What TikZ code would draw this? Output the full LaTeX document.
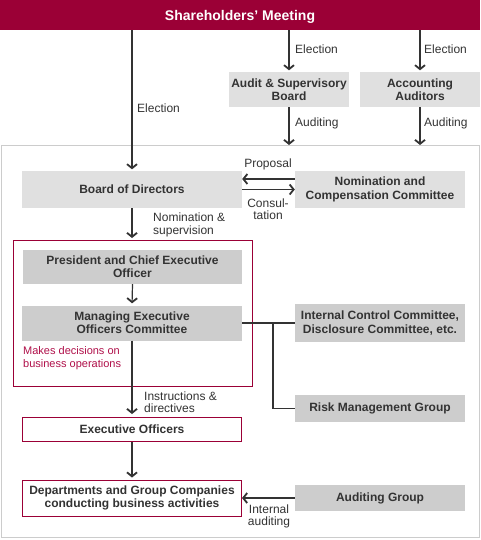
\documentclass[tikz,border=0pt]{standalone}
\usepackage{fontspec}
\setmainfont{Liberation Sans}
\usetikzlibrary{arrows.meta}
\definecolor{wine}{HTML}{9B0036}
\definecolor{winetext}{HTML}{B0104A}
\definecolor{lightbox}{HTML}{E0E0E0}
\definecolor{darkbox}{HTML}{CDCDCD}
\definecolor{ink}{HTML}{333333}
\definecolor{frame}{HTML}{CCCCCC}
\tikzset{
  every node/.style={inner sep=0pt, text=ink},
  boxtext/.style={font=\fontsize{12}{13.3}\selectfont\bfseries, align=center},
  lbox/.style={boxtext, fill=lightbox},
  dbox/.style={boxtext, fill=darkbox},
  rbox/.style={boxtext, fill=white, draw=wine, line width=1pt},
  lbl/.style={font=\fontsize{12}{12.5}\selectfont, text=ink},
  conn/.style={draw=ink, line width=1.2pt},
  arr/.style={conn, -{Straight Barb[length=4pt,width=10pt,line width=1.8pt]}},
}
\begin{document}
\begin{tikzpicture}[x=1pt,y=-1pt]
\useasboundingbox (0,0) rectangle (480,540);
% outer frame
\node[draw=frame, line width=1pt, fill=white, minimum width=478pt, minimum height=392pt] (outer) at (240,341.5) {};
% red group frame
\node[draw=wine, line width=1pt, minimum width=239pt, minimum height=146pt] (grp) at (132.5,313) {};
% banner
\node[fill=wine, minimum width=480pt, minimum height=30pt] (sh) at (240,15) {};
\node[text=white, font=\fontsize{14}{16}\selectfont\bfseries] (sht) at (240,16.5) {Shareholders’ Meeting};
% boxes
\node[lbox, minimum width=120pt, minimum height=35pt] (asb) at (289,89.5) {Audit \& Supervisory\\Board};
\node[lbox, minimum width=120pt, minimum height=35pt] (acc) at (420,89.5) {Accounting\\Auditors};
\node[lbox, minimum width=220pt, minimum height=37pt] (bod) at (132,189.5) {Board of Directors};
\node[lbox, minimum width=170pt, minimum height=37pt] (ncc) at (380,189.5) {Nomination and\\Compensation Committee};
\node[dbox, minimum width=219pt, minimum height=34pt] (pres) at (132.5,267) {President and Chief Executive\\Officer};
\node[dbox, minimum width=220pt, minimum height=35pt] (meoc) at (132,323) {Managing Executive\\Officers Committee};
\node[dbox, minimum width=170pt, minimum height=38pt] (icc) at (380,323) {Internal Control Committee,\\Disclosure Committee, etc.};
\node[dbox, minimum width=170pt, minimum height=27pt] (risk) at (380,408.5) {Risk Management Group};
\node[rbox, minimum width=219pt, minimum height=24pt] (exo) at (132,429.5) {Executive Officers};
\node[rbox, minimum width=219pt, minimum height=36pt] (dept) at (132,498) {Departments and Group Companies\\conducting business activities};
\node[dbox, minimum width=170pt, minimum height=26pt] (ag) at (380,498) {Auditing Group};
% connectors
\draw[arr, shorten >=1.5pt] (bod.north |- sh.south) -- (bod.north);
\draw[arr, shorten >=1.5pt] (asb.north |- sh.south) -- (asb.north);
\draw[arr, shorten >=1.5pt] (acc.north |- sh.south) -- (acc.north);
\draw[arr] (asb.south) -- (asb.south |- outer.north);
\draw[arr] (acc.south) -- (acc.south |- outer.north);
\draw[arr] ([yshift=10.5pt]ncc.west) -- ([yshift=10.5pt]bod.east);
\draw[arr] (bod.east) -- (ncc.west);
\draw[arr, shorten >=1.5pt] (bod.south) -- (bod.south |- grp.north);
\draw[arr, shorten >=2pt] (pres.south) -- (meoc.north);
\draw[arr, shorten >=3pt] (meoc.south) -- (exo.north);
\draw[arr, shorten >=2pt] (exo.south) -- (dept.north);
\draw[conn] (meoc.east) -- (icc.west);
\coordinate (br) at (273,323);
\draw[conn] (br) |- (risk.west);
\draw[arr] (ag.west) -- (dept.east);
% labels
\node[lbl, anchor=west] (l1) at (137,108) {Election};
\node[lbl, anchor=west] (l2) at (295,49) {Election};
\node[lbl, anchor=west] (l3) at (424,49) {Election};
\node[lbl, anchor=west] (l4) at (295,123) {Auditing};
\node[lbl, anchor=west] (l5) at (424,123) {Auditing};
\node[lbl] (l6) at (268,164) {Proposal};
\node[lbl, align=center] (l7) at (268,209) {Consul-\\tation};
\node[lbl, align=left, anchor=west] (l8) at (153,225) {Nomination \&\\supervision};
\node[lbl, align=left, anchor=west, text=winetext, font=\fontsize{11}{12.5}\selectfont] (l9) at (23,358) {Makes decisions on\\business operations};
\node[lbl, align=left, anchor=west] (l10) at (144,402) {Instructions \&\\directives};
\node[lbl, align=center] (l11) at (269,516.5) {Internal\\auditing};
\end{tikzpicture}
\end{document}
